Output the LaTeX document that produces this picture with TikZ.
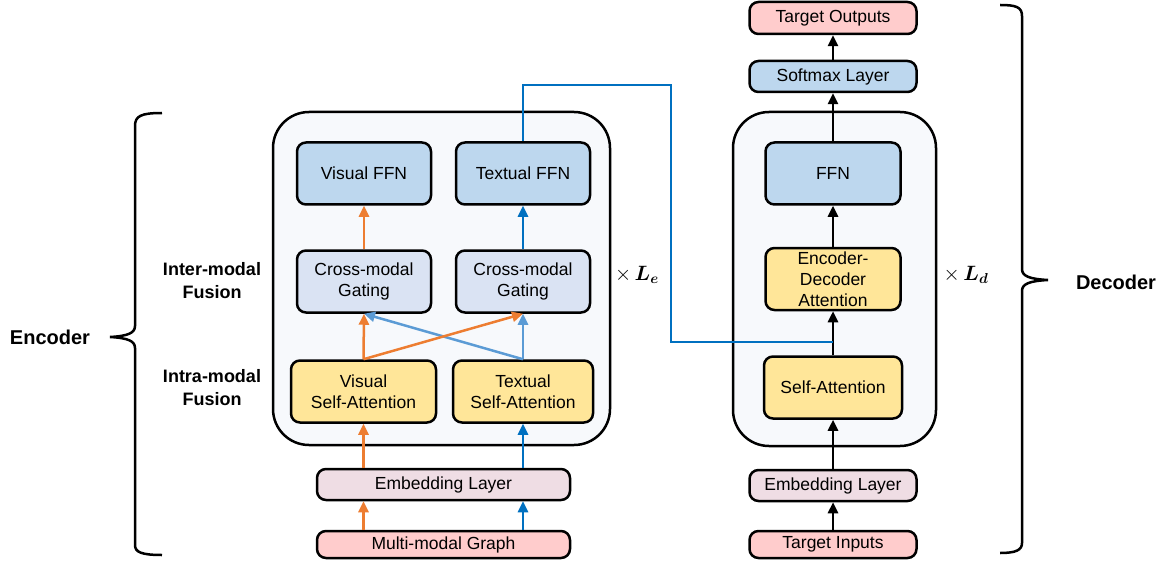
\documentclass[tikz,border=0pt]{standalone}
\usepackage{amsmath}
\usepackage{fontspec}
\setmainfont{Liberation Sans}
\usetikzlibrary{arrows.meta,positioning,calc}

\definecolor{ffnblue}{HTML}{BDD7EE}
\definecolor{gateblue}{HTML}{DAE3F3}
\definecolor{attyellow}{HTML}{FFE699}
\definecolor{embpink}{HTML}{EFDDE4}
\definecolor{iored}{HTML}{FFCCCC}
\definecolor{blockgray}{HTML}{F7F9FC}
\definecolor{visorange}{HTML}{ED7D31}
\definecolor{txtblue}{HTML}{0070C0}
\definecolor{crossblue}{HTML}{5B9BD5}

\begin{document}
\begin{tikzpicture}[x=1pt,y=-1pt,
	box/.style={draw,line width=2.5pt,rounded corners=9pt,align=center,inner sep=0pt,
		font=\fontsize{17.5}{21}\selectfont},
	wide/.style={box,minimum width=134pt,minimum height=62pt},
	flat/.style={box,minimum width=167pt,minimum height=31pt},
	block/.style={draw,line width=2.5pt,rounded corners=36pt,fill=blockgray},
	side/.style={align=center,font=\fontsize{18}{23}\selectfont\bfseries},
	tip/.style={-{Triangle[length=11pt,width=10pt]},line width=2.5pt},
	visarr/.style={tip,visorange},
	txtarr/.style={tip,txtblue},
	crossarr/.style={tip,crossblue},
	decarr/.style={tip,black}]

	\useasboundingbox (0,0) rectangle (1172,564);

	% layer stacks
	\node[block,minimum width=337pt,minimum height=333pt]	(encblk) at (441.5,278.5) {};
	\node[block,minimum width=203pt,minimum height=334pt]	(decblk) at (834.5,279) {};

	% encoder
	\node[wide,fill=ffnblue]						(vffn)	at (364,173.5)	{Visual FFN};
	\node[wide,fill=ffnblue]						(tffn)	at (523,173.5)	{Textual FFN};
	\node[wide,fill=gateblue]						(vgate)	at (364,281.5)	{Cross-modal\\Gating};
	\node[wide,fill=gateblue]						(tgate)	at (523,281.5)	{Cross-modal\\Gating};
	\node[wide,fill=attyellow,minimum width=145pt]	(vsa)	at (363.5,391.5)	{Visual\\Self-Attention};
	\node[wide,fill=attyellow,minimum width=140pt]	(tsa)	at (523,391.5)	{Textual\\Self-Attention};
	\node[flat,fill=embpink,minimum width=253pt]	(eemb)	at (443.5,484.5)	{Embedding Layer};
	\node[flat,fill=iored,minimum width=253pt,minimum height=27pt]	(mmg)	at (443.5,544.5)	{Multi-modal Graph};

	% decoder
	\node[flat,fill=iored,minimum height=32pt]		(tout)	at (833,18)		{Target Outputs};
	\node[flat,fill=ffnblue]						(soft)	at (833,76.5)	{Softmax Layer};
	\node[wide,fill=ffnblue,minimum width=135pt]	(dffn)	at (833,173.5)	{FFN};
	\node[wide,fill=attyellow,minimum width=135pt]	(eda)	at (833,279)	{Encoder-\\Decoder\\Attention};
	\node[wide,fill=attyellow,minimum width=138pt]	(dsa)	at (833,387.5)	{Self-Attention};
	\node[flat,fill=embpink]						(demb)	at (833,485.5)	{Embedding Layer};
	\node[flat,fill=iored,minimum height=27pt]		(tin)	at (833,544.5)	{Target Inputs};

	% labels
	\node[font=\fontsize{21}{24}\selectfont]	(le)	at (637,275)	{$\times\,\boldsymbol{L_e}$};
	\node[font=\fontsize{21}{24}\selectfont]	(ld)	at (966,275)	{$\times\,\boldsymbol{L_d}$};
	\node[side]		(inter)	at (212,281)	{Inter-modal\\Fusion};
	\node[side]		(intra)	at (212,388)	{Intra-modal\\Fusion};
	\node[side,font=\fontsize{20}{24}\selectfont\bfseries]	(enc)	at (50,337)		{Encoder};
	\node[side,font=\fontsize{20}{24}\selectfont\bfseries]	(dec)	at (1116,282)	{Decoder};

	% braces
	\draw[line width=2.5pt] (162,113) .. controls (141,113) and (135,116) .. (135,126) -- (135,326)
		.. controls (135,333) and (128,336) .. (110,337)
		.. controls (128,338) and (135,341) .. (135,348) -- (135,545)
		.. controls (135,552) and (141,555) .. (162,555);
	\draw[line width=2.5pt] (1000,5) .. controls (1016,5) and (1022,7) .. (1022,16) -- (1022,269)
		.. controls (1022,276) and (1029,279) .. (1048,280)
		.. controls (1029,281) and (1022,284) .. (1022,291) -- (1022,543)
		.. controls (1022,550) and (1016,553) .. (1000,553);

	% encoder flow
	\draw[visarr]	(vsa |- mmg.north) -- (vsa |- eemb.south);
	\draw[txtarr]	(tsa |- mmg.north) -- (tsa |- eemb.south);
	\draw[visarr]	(vsa |- eemb.north) -- (vsa.south);
	\draw[txtarr]	(tsa |- eemb.north) -- (tsa.south);
	\draw[crossarr]	(tsa.north) -- (vgate.south);
	\draw[crossarr]	(tsa.north) -- (tgate.south);
	\draw[visarr]	(vsa.north) -- (vgate.south);
	\draw[visarr]	(vsa.north) -- (tgate.south);
	\draw[visarr]	(vgate.north) -- (vffn.south);
	\draw[txtarr]	(tgate.north) -- (tffn.south);

	% decoder flow
	\coordinate (join) at (833,342);
	\draw[decarr]	(tin) -- (demb);
	\draw[decarr]	(demb) -- (dsa);
	\draw[decarr]	(dsa) -- (eda);
	\draw[decarr]	(eda) -- (dffn);
	\draw[decarr]	(dffn) -- (soft);
	\draw[decarr]	(soft) -- (tout);
	\draw[txtblue,line width=2.5pt]	(tffn.north) |- (671,85) |- (join);
\end{tikzpicture}
\end{document}
